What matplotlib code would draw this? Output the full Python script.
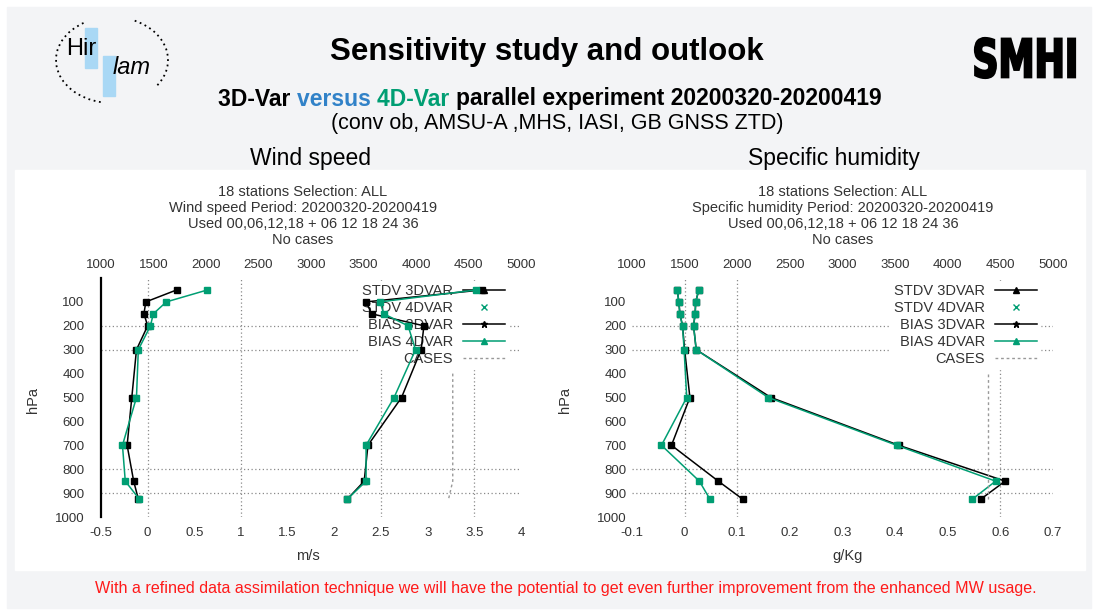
import matplotlib
matplotlib.use("Agg")
import matplotlib.pyplot as plt
from matplotlib import font_manager
from matplotlib.font_manager import FontProperties
from matplotlib.lines import Line2D
from matplotlib.patches import Rectangle, Arc, PathPatch
from matplotlib.textpath import TextPath
from matplotlib.transforms import Affine2D

# ── DATA ───────────────────────────────────────────────
LEVELS = [50, 100, 150, 200, 300, 500, 700, 850, 925]
CASES_LEVELS = [400, 500, 700, 850, 925]

# wind speed (m/s)
WS_STDV_3D = [3.58, 2.34, 2.40, 2.96, 2.93, 2.72, 2.36, 2.32, 2.14]
WS_STDV_4D = [3.52, 2.49, 2.53, 2.79, 2.87, 2.64, 2.34, 2.34, 2.14]
WS_BIAS_3D = [0.31, -0.02, -0.04, 0.00, -0.12, -0.17, -0.22, -0.15, -0.10]
WS_BIAS_4D = [0.64, 0.20, 0.06, 0.03, -0.10, -0.12, -0.27, -0.24, -0.09]
WS_CASES = [4350, 4350, 4350, 4350, 4310]

# specific humidity (g/Kg)
Q_STDV_3D = [0.027, 0.021, 0.020, 0.017, 0.022, 0.164, 0.407, 0.609, 0.563]
Q_STDV_4D = [0.027, 0.021, 0.020, 0.017, 0.022, 0.159, 0.403, 0.591, 0.547]
Q_BIAS_3D = [-0.014, -0.011, -0.009, -0.004, 0.000, 0.010, -0.025, 0.064, 0.110]
Q_BIAS_4D = [-0.014, -0.011, -0.009, -0.004, -0.001, 0.004, -0.044, 0.028, 0.048]
Q_CASES = [4380, 4380, 4380, 4380, 4380]

WS_XTICKS = [-0.5, 0, 0.5, 1, 1.5, 2, 2.5, 3, 3.5, 4]
WS_XLABELS = ["-0.5", "0", "0.5", "1", "1.5", "2", "2.5", "3", "3.5", "4"]
Q_XTICKS = [-0.1, 0, 0.1, 0.2, 0.3, 0.4, 0.5, 0.6, 0.7]
Q_XLABELS = ["-0.1", "0", "0.1", "0.2", "0.3", "0.4", "0.5", "0.6", "0.7"]
YTICKS = [100, 200, 300, 400, 500, 600, 700, 800, 900, 1000]
X2TICKS = [1000, 1500, 2000, 2500, 3000, 3500, 4000, 4500, 5000]

WS_XGRID = [0, 1, 2.5, 3.5]
Q_XGRID = [0, 0.1, 0.6]
YGRID = [200, 300, 800, 900]

LEGEND_LABELS = ["STDV 3DVAR", "STDV 4DVAR", "BIAS 3DVAR", "BIAS 4DVAR", "CASES"]

# ── STYLE ──────────────────────────────────────────────
W, H = 1102, 610
GREEN = "#009e73"
TXT = "#333333"
GRID = dict(color="#8a8a8a", lw=0.9, ls=(0, (1, 2)), zorder=1)

_names = {f.name for f in font_manager.fontManager.ttflist}
NARROW = "Liberation Sans Narrow" if "Liberation Sans Narrow" in _names else "Liberation Sans"
GP_FONT = [NARROW, "DejaVu Sans"]
plt.rcParams["font.family"] = ["Liberation Sans", "DejaVu Sans"]

fig = plt.figure(figsize=(W / 100, H / 100), dpi=100)
fig.patch.set_facecolor("white")

# background axes in pixel coordinates
bg = fig.add_axes([0, 0, 1, 1])
bg.set_xlim(0, W)
bg.set_ylim(H, 0)
bg.set_axis_off()
bg.add_patch(Rectangle((7, 7), 1084, 601, color="#f3f4f6", zorder=0))
bg.add_patch(Rectangle((15, 170), 1070, 400, color="white", zorder=0))


def px_axes(x0, y0, x1, y1):
    return fig.add_axes([x0 / W, 1 - y1 / H, (x1 - x0) / W, (y1 - y0) / H])


# ── HEADER ─────────────────────────────────────────────
bg.text(547, 52, "Sensitivity study and outlook", fontsize=22.5, fontweight="bold",
        ha="center", va="center")

parts = [("3D-Var ", "black"), ("versus ", "#3182c8"), ("4D-Var ", GREEN),
         ("parallel experiment 20200320-20200419", "black")]
renderer = fig.canvas.get_renderer()
texts = [bg.text(0, 99, s, color=c, fontsize=16.5, fontweight="bold", va="center")
         for s, c in parts]
widths = [t.get_window_extent(renderer).width for t in texts]
x = 550 - sum(widths) / 2
for t, w in zip(texts, widths):
    t.set_x(x)
    x += w

bg.text(557, 123, "(conv ob, AMSU-A ,MHS, IASI, GB GNSS ZTD)", fontsize=15.5,
        ha="center", va="center")
bg.text(311, 158, "Wind speed", fontsize=16.5, ha="center", va="center")
bg.text(834, 158, "Specific humidity", fontsize=16.5, ha="center", va="center")

bg.text(566, 588, "With a refined data assimilation technique we will have the potential "
        "to get even further improvement from the enhanced MW usage.",
        fontsize=11.6, color="#ff1a1a", ha="center", va="center")

# Hirlam logo
bg.add_patch(Rectangle((85, 28), 12, 40, color="#a9d8f5", zorder=1))
bg.add_patch(Rectangle((103, 56), 12, 40, color="#a9d8f5", zorder=1))
bg.text(81, 49, "Hir", fontsize=17, ha="center", va="center", zorder=2)
bg.text(132, 67, "lam", fontsize=17, style="italic", ha="center", va="center", zorder=2)
bg.add_patch(Arc((112, 60), 112, 86, theta1=105, theta2=235, ls=(0, (1, 2)), lw=1.3, zorder=2))
bg.add_patch(Arc((112, 60), 112, 86, theta1=300, theta2=390, ls=(0, (1, 2)), lw=1.3, zorder=2))

# SMHI logo, condensed by scaling a text path into its box
tp = TextPath((0, 0), "SMHI", size=50, prop=FontProperties(family="DejaVu Sans", weight="bold"))
ext = tp.get_extents()
sx = 100 / ext.width
sy = 40 / ext.height
tr = Affine2D().translate(-ext.x0, -ext.y0).scale(sx, -sy).translate(975, 78) + bg.transData
bg.add_patch(PathPatch(tp, transform=tr, color="black", lw=1.6, zorder=2))


# ── PROFILE PANELS ─────────────────────────────────────
def panel(box, stdv3, stdv4, bias3, bias4, cases, xlim, xticks, xlabels, xgrid,
          title_x, quantity, unit, left_spine, ypad, hpa_x):
    ax = px_axes(*box)
    ax.set_facecolor("none")
    ax.set_xlim(*xlim)
    ax.set_ylim(1000, 0)

    for g in YGRID:
        ax.axhline(g, **GRID)
    for g in xgrid:
        ax.axvline(g, **GRID)

    kw = dict(lw=1.1, marker="s", ms=4.5, zorder=3)
    ax.plot(stdv3, LEVELS, color="black", **kw)
    ax.plot(stdv4, LEVELS, color=GREEN, **kw)
    ax.plot(bias3, LEVELS, color="black", **kw)
    ax.plot(bias4, LEVELS, color=GREEN, **kw)

    ax.set_xticks(xticks, xlabels)
    ax.set_yticks(YTICKS)
    ax.tick_params(length=0, labelsize=9.5, labelcolor=TXT)
    ax.tick_params(axis="x", pad=7)
    ax.tick_params(axis="y", pad=ypad)
    for lab in ax.get_xticklabels() + ax.get_yticklabels():
        lab.set_family(GP_FONT)
    for name, sp in ax.spines.items():
        sp.set_visible(name == "left" and left_spine)
    ax.spines["left"].set_linewidth(1.6)

    handles = [
        Line2D([], [], color="black", lw=1.1, marker="^", ms=4),
        Line2D([], [], color=GREEN, lw=0, marker="x", ms=5),
        Line2D([], [], color="black", lw=1.1, marker="*", ms=5),
        Line2D([], [], color=GREEN, lw=1.1, marker="^", ms=4),
        Line2D([], [], color="#999999", lw=1.0, ls=(0, (2, 2))),
    ]
    leg = ax.legend(handles, LEGEND_LABELS, loc="upper right", bbox_to_anchor=(0.97, 0.987),
                    markerfirst=False, frameon=True, fancybox=False, framealpha=1,
                    edgecolor="white", facecolor="white", borderpad=0.2, borderaxespad=0,
                    labelspacing=0.2, handlelength=2.9, handletextpad=0.7,
                    prop={"family": GP_FONT, "size": 10.5})
    for t in leg.get_texts():
        t.set_color(TXT)
    leg.set_zorder(2)

    ax2 = ax.twiny()
    ax2.set_xlim(1000, 5000)
    ax2.plot(cases, CASES_LEVELS, color="#999999", lw=1.0, ls=(0, (2, 2)))
    ax2.set_xticks(X2TICKS)
    ax2.tick_params(length=0, labelsize=9.5, labelcolor=TXT, pad=5)
    for lab in ax2.get_xticklabels():
        lab.set_family(GP_FONT)
    for sp in ax2.spines.values():
        sp.set_visible(False)

    lines = ["18 stations Selection: ALL",
             f"{quantity} Period: 20200320-20200419",
             "Used 00,06,12,18 + 06 12 18 24 36",
             "No cases"]
    for i, s in enumerate(lines):
        bg.text(title_x, 192 + 16 * i, s, fontsize=10.5, family=GP_FONT,
                color=TXT, ha="center", va="center")
    bg.text(hpa_x, 400, "hPa", fontsize=10.5, family=GP_FONT, color=TXT,
            rotation=90, ha="center", va="center")
    bg.text(title_x + 5, 556, unit, fontsize=10.5, family=GP_FONT, color=TXT,
            ha="center", va="center")
    return ax


panel((101, 278, 521, 517), WS_STDV_3D, WS_STDV_4D, WS_BIAS_3D, WS_BIAS_4D, WS_CASES,
      (-0.5, 4), WS_XTICKS, WS_XLABELS, WS_XGRID, 303, "Wind speed", "m/s", True, 12, 33)
panel((632, 278, 1053, 517), Q_STDV_3D, Q_STDV_4D, Q_BIAS_3D, Q_BIAS_4D, Q_CASES,
      (-0.1, 0.7), Q_XTICKS, Q_XLABELS, Q_XGRID, 843, "Specific humidity", "g/Kg", False, 4, 565)

fig.savefig("out.png", dpi=100)
